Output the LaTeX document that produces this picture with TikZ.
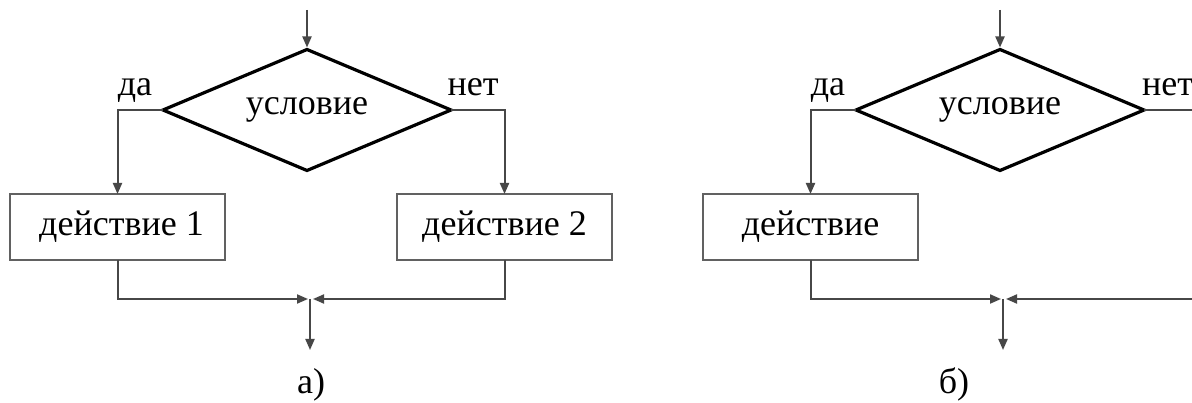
\documentclass[tikz,border=0pt]{standalone}
\usepackage{fontspec}
\setmainfont{Liberation Serif}
\usetikzlibrary{shapes.geometric,arrows.meta}
\newcommand\mysz{\fontsize{36}{42}\selectfont}
\begin{document}
\begin{tikzpicture}[x=1pt,y=-1pt,
  cond/.style={diamond,draw=black,line width=3.2pt,minimum width=288pt,minimum height=121pt,inner sep=0pt,outer sep=0pt,aspect=2.4,font=\mysz},
  actbox/.style={rectangle,draw=black!62,line width=2.4pt,minimum width=215pt,minimum height=66pt,inner sep=0pt,outer sep=0pt,font=\mysz},
  conn/.style={draw=black!72,line width=2pt},
  arr/.style={conn,-{Triangle[length=11pt,width=9pt]}},
  lbl/.style={font=\mysz,inner sep=0pt,anchor=base}
]
\useasboundingbox (0,0) rectangle (1192,403);
\clip (0,0) rectangle (1192,403);
\fill[white] (0,0) rectangle (1192,403);
% ---- a) ----
\node[cond] (c1) at (307,110) {условие};
\coordinate (s1) at (307,10);
\draw[arr,shorten >=2pt] (s1) -- (c1.north);
\node[actbox] (b1) at (117.5,227) {\hspace{8pt}действие 1};
\node[actbox] (b2) at (504.5,227) {действие 2};
\draw[arr] (c1.west) -| (b1.north);
\draw[arr] (c1.east) -| (b2.north);
\coordinate (m1) at (310,299);
\coordinate (e1) at (310,350);
\draw[arr] (b1.south) |- ([xshift=-2pt]m1);
\draw[arr] (b2.south) |- ([xshift=3pt]m1);
\draw[arr] (m1) -- (e1);
\node[lbl] (da1) at (135,96) {да};
\node[lbl] (net1) at (473,96) {нет};
\node[lbl] (la) at (311,394) {а)};
% ---- б) ----
\node[cond] (c2) at (1000,110) {условие};
\coordinate (s2) at (1000,10);
\draw[arr,shorten >=2pt] (s2) -- (c2.north);
\node[actbox] (b3) at (810.5,227) {действие};
\draw[arr] (c2.west) -| (b3.north);
\coordinate (r1) at (1200,110);
\coordinate (r2) at (1200,299);
\draw[conn] (c2.east) -- (r1);
\coordinate (m2) at (1003,299);
\coordinate (e2) at (1003,350);
\draw[arr] (b3.south) |- ([xshift=-2pt]m2);
\draw[arr] (r2) -- ([xshift=3pt]m2);
\draw[arr] (m2) -- (e2);
\node[lbl] (da2) at (828,96) {да};
\node[lbl,anchor=base west] (net2) at (1142,96) {нет};
\node[lbl] (lb) at (954,393) {б)};
\end{tikzpicture}
\end{document}
